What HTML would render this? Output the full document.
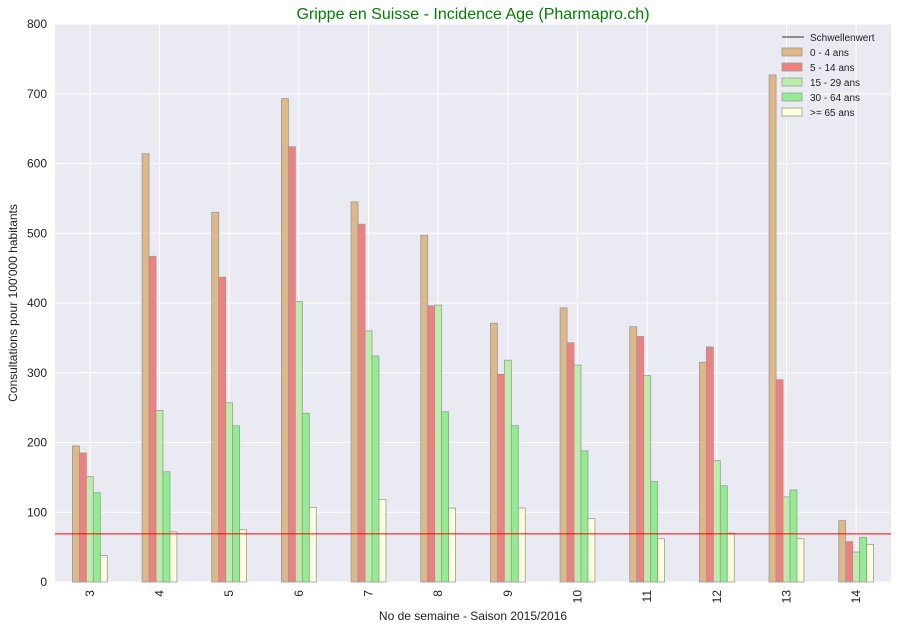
<!DOCTYPE html>
<html><head><meta charset="utf-8"><style>
body{margin:0;background:#fff;font-family:"Liberation Sans",sans-serif}
</style></head><body>
<svg id="c" width="899" height="629" xmlns="http://www.w3.org/2000/svg"></svg>
<script>
const categories=["3","4","5","6","7","8","9","10","11","12","13","14"];
const s0=[195,614,530,693,545,497,371,393,366,315,727,88];
const s1=[185,467,437,624,513,396,298,343,352,337,290,58];
const s2=[151,246,257,402,360,397,318,311,296,174,122,43];
const s3=[128,158,224,242,324,244,224,188,144,138,132,64];
const s4=[38,72,75,107,118,106,106,91,62,70,62,54];
const threshold=69;
const seriesNames=["0 - 4 ans","5 - 14 ans","15 - 29 ans","30 - 64 ans",">= 65 ans"];
const colors=["#deb887","#f08080","#bbeeaa","#90ee90","#ffffe0"];
const yTicks=[0,100,200,300,400,500,600,700,800];
const series=[s0,s1,s2,s3,s4];
const NS="http://www.w3.org/2000/svg",svg=document.getElementById('c');
const L=55,R=891,T=24,B=582;
const y=v=>B-(v/800)*(B-T);
const step=(R-L)/categories.length;
const x=i=>L+step*(i+0.5);
function el(t,a,p){const e=document.createElementNS(NS,t);for(const k in a)e.setAttribute(k,a[k]);(p||svg).appendChild(e);return e;}
const bg=el('rect',{x:L,y:T,width:R-L,height:B-T,fill:'#eaeaf2'});

yTicks.forEach(v=>{
 const g=el('line',{x1:L,x2:R,y1:y(v),y2:y(v),stroke:'#fff','stroke-width':1});
 
 const t=el('text',{x:47,y:y(v)+4,'text-anchor':'end','font-size':12,fill:'#222'});t.textContent=v;
 
});
categories.forEach((c,i)=>{
 const g=el('line',{x1:x(i),x2:x(i),y1:T,y2:B,stroke:'#fff','stroke-width':1});
 
 const t=el('text',{x:0,y:0,'text-anchor':'end','font-size':12,fill:'#222',transform:`translate(${x(i)+4},590) rotate(-90)`});t.textContent=c;
 
});
const bw=step*0.5/5;
series.forEach((s,k)=>s.forEach((v,i)=>{
 const bx=x(i)-2.5*bw+k*bw;
 const r=el('rect',{x:bx,y:y(v),width:bw,height:B-y(v),fill:colors[k],stroke:'#999','stroke-width':0.8});
 
 
}));
const th=el('line',{x1:L,x2:R,y1:y(threshold),y2:y(threshold),stroke:'red','stroke-width':1});

const ti=el('text',{x:473,y:19,'text-anchor':'middle','font-size':16,fill:'green'});ti.textContent='Grippe en Suisse - Incidence Age (Pharmapro.ch)';

const xt=el('text',{x:473,y:620,'text-anchor':'middle','font-size':12,fill:'#222'});xt.textContent='No de semaine - Saison 2015/2016';

const yt=el('text',{x:0,y:0,'text-anchor':'middle','font-size':12,fill:'#222',transform:'translate(17,303) rotate(-90)'});yt.textContent="Consultations pour 100'000 habitants";

const lg=el('g',{});
const ll=el('line',{x1:782,x2:804,y1:37,y2:37,stroke:'#333','stroke-width':1},lg);

const lt=el('text',{x:810,y:41,'font-size':10,fill:'#222'},lg);lt.textContent='Schwellenwert';

seriesNames.forEach((n,k)=>{
 const yy=52+k*15;
 const r=el('rect',{x:782,y:yy-4,width:20,height:8,fill:colors[k],stroke:'#999','stroke-width':0.8},lg);
 
 const t=el('text',{x:810,y:yy+4,'font-size':10,fill:'#222'},lg);t.textContent=n;
 
});
</script>
</body></html>
